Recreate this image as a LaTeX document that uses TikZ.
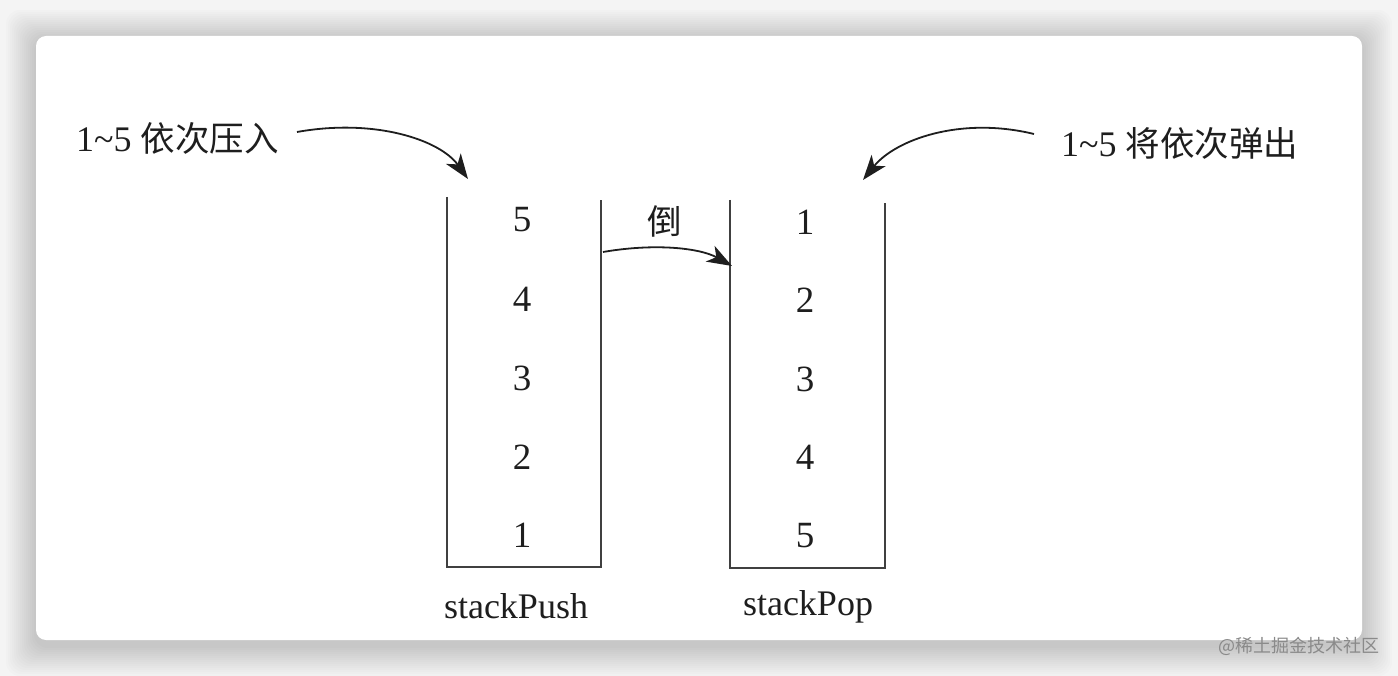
\documentclass[tikz,border=0pt]{standalone}
\usepackage{fontspec}
\setmainfont{Liberation Serif}
\newfontfamily\cjk{Noto Sans CJK SC}
\usetikzlibrary{arrows.meta}
\definecolor{ink}{HTML}{1E1E1E}
\definecolor{bgc}{HTML}{F4F4F4}
\definecolor{wm}{HTML}{8A8A8A}
\tikzset{
  num/.style={font=\fontsize{37}{37}\selectfont, text=ink, inner sep=0pt},
  lbl/.style={font=\fontsize{36}{36}\selectfont, text=ink, inner sep=0pt},
  cjklbl/.style={font=\cjk\fontsize{34.5}{34.5}\selectfont},
  stackline/.style={draw=ink!85, line width=1.6pt},
  arr/.style={draw=ink, line width=1.8pt, -{Stealth[length=25pt,width=18pt,inset=7pt]}},
}
\begin{document}
\begin{tikzpicture}[x=1pt,y=-1pt]
\useasboundingbox (0,0) rectangle (1398,676);
\fill[bgc] (0,0) rectangle (1398,676);
% shadow
\foreach \d in {2,4,...,30}{
  \fill[black, opacity=0.01, rounded corners=14pt] ({36-\d},{40-\d}) rectangle ({1362+\d},{646+\d});
}
\fill[white, rounded corners=10pt] (36,36) rectangle (1362,640);

% stacks
\draw[stackline] (447,197) |- (601,567) -- (601,200);
\draw[stackline] (730,200) |- (885,568) -- (885,203);

\node[num] (p5) at (522,220) {5};
\node[num] (p4) at (522,299) {4};
\node[num] (p3) at (522,378) {3};
\node[num] (p2) at (522,457) {2};
\node[num] (p1) at (522,535) {1};

\node[num] (q1) at (805,222) {1};
\node[num] (q2) at (805,300) {2};
\node[num] (q3) at (805,379) {3};
\node[num] (q4) at (805,457) {4};
\node[num] (q5) at (805,536) {5};

\node[lbl] (push) at (516,606) {stackPush};
\node[lbl] (pop) at (808,607) {stackPop};

% labels
\node[lbl, anchor=west] (tl) at (76,138) {1\textasciitilde5 {\cjk\fontsize{34.5}{34.5}\selectfont 依次压入}};
\node[lbl, anchor=west] (tr) at (1061,143) {1\textasciitilde5 {\cjk\fontsize{34.5}{34.5}\selectfont 将依次弹出}};
\node[lbl, cjklbl] (dao) at (665,221) {倒};

% arrows
\coordinate (la) at (297,132);
\coordinate (lt) at (468,179);
\coordinate (ra) at (1034,134);
\coordinate (rt) at (863,180);
\coordinate (ma) at (603,252);
\coordinate (mt) at (732,266);
\draw[arr] (la) .. controls (375,118) and (440,140) .. (lt);
\draw[arr] (ra) .. controls (960,116) and (895,140) .. (rt);
\draw[arr] (ma) .. controls (655,243) and (700,248) .. (mt);

% watermark
\node[anchor=east, inner sep=0pt, text=wm, font=\cjk\fontsize{18}{18}\selectfont] (wmk) at (1380,646) {@稀土掘金技术社区};
\end{tikzpicture}
\end{document}
